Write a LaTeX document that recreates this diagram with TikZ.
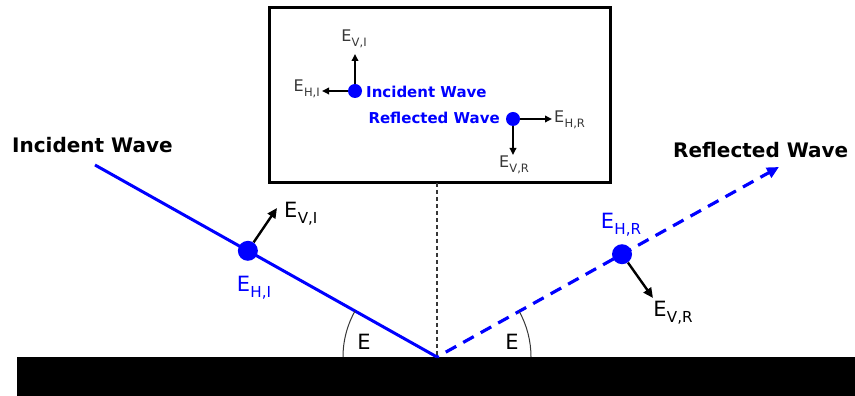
\documentclass[tikz,border=0pt]{standalone}
\usepackage{fontspec}
\setmainfont{DejaVu Sans}
\usetikzlibrary{arrows.meta,calc}
\definecolor{wave}{RGB}{0,0,255}
\definecolor{labgray}{RGB}{55,55,55}
\tikzset{
  wavedot/.style={circle,fill=wave,inner sep=0pt,minimum size=#1},
  field/.style={-{Triangle[length=10pt,width=9pt]},line width=2.4pt},
  smallfield/.style={-{Triangle[length=7pt,width=6.5pt]},line width=1.8pt},
  title/.style={inner sep=0pt,font=\fontsize{20}{24}\selectfont\bfseries},
  boxtitle/.style={inner sep=0pt,text=wave,font=\fontsize{15}{18}\selectfont\bfseries},
  biglab/.style={inner sep=0pt,font=\fontsize{21}{25}\selectfont},
  smalllab/.style={inner sep=0pt,text=labgray,font=\fontsize{16}{19}\selectfont},
}
\newcommand{\Ef}[1]{E\kern0.3pt\raisebox{-0.55ex}{\scalebox{0.72}{#1}}}
\begin{document}
\begin{tikzpicture}[x=1pt,y=1pt]
\useasboundingbox (0,0) rectangle (855,396);

% ground
\fill (17,0) rectangle (855,39);
\coordinate (O) at (437,39);

% incident wave
\coordinate (S) at (95,231);
\draw[wave,line width=3pt] (S) -- (O);
\node[wavedot=20pt] (dI) at ($(S)!0.447!(O)$) {};
\coordinate (vI) at (277,188);
\draw[field] (dI) -- (vI);
\node[biglab,anchor=west] (lvI) at (284,182) {\Ef{V,I}};
\node[biglab,text=wave] (lhI) at (254,108) {\Ef{H,I}};
\node[title,anchor=west] (tI) at (12,251) {Incident Wave};

% reflected wave
\coordinate (T) at (779,229);
\draw[wave,line width=3.2pt,dash pattern=on 12pt off 8pt,dash phase=-10pt,
  -{Triangle[length=12pt,width=11pt]}] (O) -- (T);
\node[wavedot=20pt] (dR) at ($(O)!0.541!(T)$) {};
\coordinate (vR) at (653,98);
\draw[field] (dR) -- (vR);
\node[biglab] (lvR) at (673,83) {\Ef{V,R}};
\node[biglab,text=wave] (lhR) at (621,171) {\Ef{H,R}};
\node[title,anchor=west] (tR) at (673,246) {Reflected Wave};

% angles
\draw[labgray,line width=1pt] ($(O)+(-94,0)$) arc[start angle=180,end angle=150.7,radius=94pt];
\draw[labgray,line width=1pt] ($(O)+(94,0)$) arc[start angle=0,end angle=29.1,radius=94pt];
\node[biglab] (aI) at (364,54) {E};
\node[biglab] (aR) at (512,54) {E};

% inset
\draw[line width=3pt] (269,388) rectangle (610,213);
\draw[labgray,line width=1.2pt,dash pattern=on 4pt off 3pt] (437,213) -- (O);

\node[wavedot=14pt] (bI) at (355,305) {};
\coordinate (bvI) at (355,342);
\coordinate (bhI) at (322,305);
\draw[smallfield] (bI) -- (bvI);
\draw[smallfield] (bI) -- (bhI);
\node[smalllab] (blvI) at (354,357) {\Ef{V,I}};
\node[smalllab,anchor=east] (blhI) at (320,307) {\Ef{H,I}};
\node[boxtitle,anchor=west] (btI) at (366,304) {Incident Wave};

\node[wavedot=14pt] (bR) at (513,277) {};
\coordinate (bhR) at (552,277);
\coordinate (bvR) at (513,241);
\draw[smallfield] (bR) -- (bhR);
\draw[smallfield] (bR) -- (bvR);
\node[smalllab,anchor=west] (blhR) at (554,276) {\Ef{H,R}};
\node[smalllab] (blvR) at (514,231) {\Ef{V,R}};
\node[boxtitle,anchor=east] (btR) at (500,278) {Reflected Wave};
\end{tikzpicture}
\end{document}
